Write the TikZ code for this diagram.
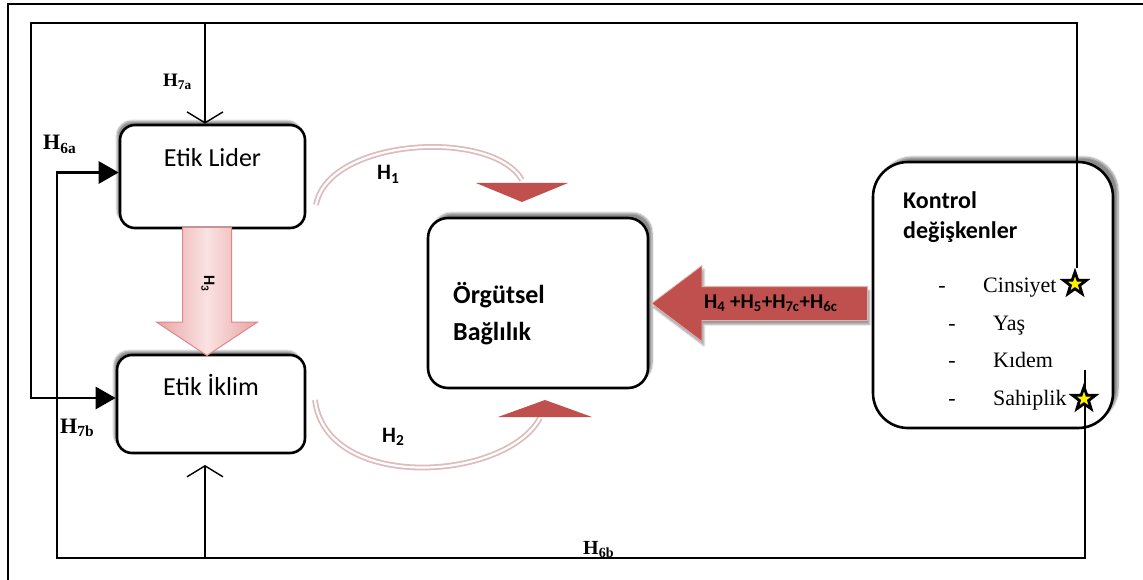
\documentclass[tikz,border=0pt]{standalone}
\usepackage{fontspec}
\setmainfont{Liberation Serif}
\setsansfont{Carlito}
\usepackage{tikz}
\usetikzlibrary{arrows.meta,shapes.arrows,shapes.geometric,shadows.blur}
\definecolor{headred}{RGB}{192,80,77}
\definecolor{arcpink}{RGB}{222,188,188}
\definecolor{hlight}{RGB}{250,226,226}
\definecolor{hdark}{RGB}{234,164,164}
\definecolor{hedge}{RGB}{218,136,136}

\begin{document}
\begin{tikzpicture}[x=1pt,y=-1pt]
	\tikzstyle{box}=[draw,line width=2.6pt,fill=white,inner sep=0pt]
	\tikzstyle{soft}=[blur shadow={shadow xshift=-3pt,shadow yshift=4pt,shadow blur steps=8,shadow opacity=45}]
	\tikzstyle{boxtext}=[font=\sffamily\fontsize{26}{30}\selectfont]
	\tikzstyle{title}=[anchor=base west,inner sep=0pt,font=\sffamily\bfseries\fontsize{24}{28}\selectfont]
	\tikzstyle{item}=[anchor=base west,inner sep=0pt,font=\fontsize{22}{26}\selectfont]
	\tikzstyle{hyphen}=[anchor=base,inner sep=0pt,font=\fontsize{22}{26}\selectfont]
	\tikzstyle{hyp}=[anchor=base west,inner sep=0pt,font=\bfseries\fontsize{22}{26}\selectfont]
	\tikzstyle{hypsans}=[anchor=base west,inner sep=0pt,font=\sffamily\bfseries\fontsize{22}{26}\selectfont]
	\tikzstyle{link}=[line width=2.7pt]
	\tikzstyle{into}=[-{Triangle[length=20pt,width=22pt]}]
	\tikzstyle{barb}=[-{Straight Barb[length=11pt,width=36pt,line width=1.4pt]}]
	\tikzstyle{arc}=[draw=arcpink,line width=1.8pt,double=white,double distance=2.2pt]
	\tikzstyle{starmark}=[shape=star,star points=5,star point ratio=2.5,minimum size=24pt,inner sep=0pt,draw,line width=2.8pt,fill=yellow]
	\useasboundingbox (0,0) rectangle (1143,580);
	\draw [line width=2.2pt] (8,580) |- (1143,4);
	% boxes
	\node (lider) at (212.5,176.5) [box,soft,rounded corners=15pt,boxtext,minimum width=185pt,minimum height=103pt,text height=42pt,text depth=61pt] {Etik Lider};
	\node (iklim) at (211,404) [box,soft,rounded corners=15pt,boxtext,minimum width=188pt,minimum height=98pt,text height=40pt,text depth=58pt] {Etik İklim};
	\node (orgut) at (538,303) [box,blur shadow={shadow xshift=4pt,shadow yshift=5pt,shadow blur steps=8,shadow opacity=45},rounded corners=20pt,minimum width=220pt,minimum height=170pt] {};
	\node (kontrol) at (993,295) [box,blur shadow={shadow xshift=5pt,shadow yshift=5pt,shadow blur steps=8,shadow opacity=45},rounded corners=35pt,minimum width=240pt,minimum height=266pt] {};
	% texts in the boxes
	\node (orgutone) at (453,303) [title,font=\sffamily\bfseries\fontsize{26}{30}\selectfont] {Örgütsel};
	\node (orguttwo) at (453,340) [title,font=\sffamily\bfseries\fontsize{26}{30}\selectfont] {Bağlılık};
	\node (kontrolone) at (903,208) [title] {Kontrol};
	\node (kontroltwo) at (903,238) [title] {değişkenler};
	\node (hyphenone) at (942,292) [hyphen] {-};
	\node (hyphentwo) at (952,330) [hyphen] {-};
	\node (hyphenthree) at (952,367) [hyphen] {-};
	\node (hyphenfour) at (952,405) [hyphen] {-};
	\node (cinsiyet) at (983,292) [item] {Cinsiyet};
	\node (yas) at (993,330) [item] {Yaş};
	\node (kidem) at (993,367) [item] {Kıdem};
	\node (sahiplik) at (993,405) [item] {Sahiplik};
	% fat arrows
	\node (hthree) at (207,227) [single arrow,rotate=-90,anchor=tail,minimum height=128pt,single arrow head extend=26pt,single arrow tip angle=113,single arrow head indent=0pt,text height=10pt,text depth=4pt,inner ysep=17pt,inner xsep=2pt,left color=hdark,right color=hdark,middle color=hlight,draw=hedge,line width=1pt,font=\sffamily\bfseries\fontsize{16}{18}\selectfont] {H\textsubscript{3}};
	\node (bigarrow) at (868,303.5) [single arrow,shape border rotate=180,anchor=tail,minimum height=216pt,single arrow head extend=21pt,single arrow tip angle=74,single arrow head indent=0pt,text height=13pt,text depth=4pt,inner ysep=8pt,fill=headred,draw=headred!45!white,line width=0.8pt,blur shadow={shadow xshift=2pt,shadow yshift=-4pt,shadow blur steps=6,shadow opacity=40},font=\sffamily\bfseries\fontsize{21}{24}\selectfont] {H\textsubscript{4} +H\textsubscript{5}+H\textsubscript{7c}+H\textsubscript{6c}};
	% curved arrows
	\coordinate (arconestart) at (316,205);
	\coordinate (arconeend) at (522,180);
	\coordinate (tipone) at (522,202);
	\coordinate (arctwostart) at (315,400);
	\coordinate (arctwoend) at (540,418);
	\coordinate (tiptwo) at (545,400);
	\draw [arc] (arconestart) .. controls (328,138) and (492,128) .. (arconeend);
	\draw [arc] (arctwostart) .. controls (326,492) and (505,482) .. (arctwoend);
	\fill [headred] (tipone) -- ++(-46,-19) -- ++(92,0) -- cycle;
	\fill [headred] (tiptwo) -- ++(-47,17) -- ++(94,0) -- cycle;
	\node (hone) at (377,180) [hypsans] {H\textsubscript{1}};
	\node (htwo) at (382,442) [hypsans] {H\textsubscript{2}};
	% feedback lines
	\coordinate (topleft) at (31,23);
	\coordinate (topmid) at (205,23);
	\coordinate (cinstop) at (1077,268);
	\coordinate (botleft) at (57,558);
	\coordinate (botmid) at (205,558);
	\coordinate (sahipend) at (1085,370);
	\coordinate (iklimgap) at (205,465);
	\draw [link,into] (cinstop) |- (topleft) |- ([yshift=6pt]iklim.west);
	\draw [link,barb] (topmid) -- (topmid |- lider.north);
	\draw [link,into] (sahipend) |- (botleft) |- ([yshift=4pt]lider.west);
	\draw [link,barb] (botmid) -- (iklimgap);
	\node (cinsstar) at (1075,284) [starmark] {};
	\node (sahipstar) at (1084,399) [starmark] {};
	% labels
	\node (hsevena) at (163,87) [hyp,font=\bfseries\fontsize{19}{22}\selectfont] {H\textsubscript{7a}};
	\node (hsixa) at (43,150) [hyp] {H\textsubscript{6a}};
	\node (hsevenb) at (60,433) [hyp] {H\textsubscript{7b}};
	\node (hsixb) at (583,554) [hyp,font=\bfseries\fontsize{20}{22}\selectfont] {H\textsubscript{6b}};
\end{tikzpicture}
\end{document}
